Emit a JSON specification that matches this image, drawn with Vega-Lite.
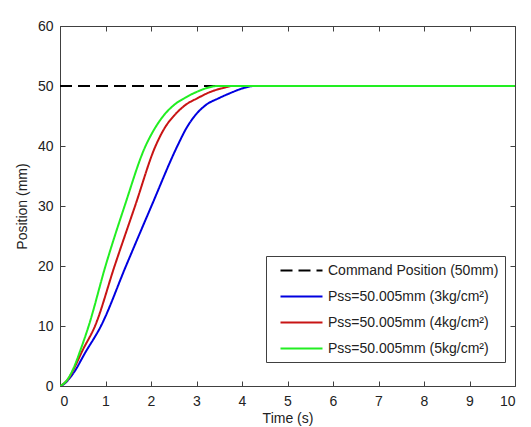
{
  "$schema": "https://vega.github.io/schema/vega-lite/v6.json",
  "width": 455,
  "height": 360,
  "autosize": {"type": "none"},
  "padding": {"left": 60, "top": 26, "right": 16, "bottom": 41},
  "background": "white",
  "config": {
    "font": "Liberation Sans",
    "view": {"stroke": "#404040", "strokeWidth": 1},
    "axis": {"domain": false, "tickColor": "transparent", "labelColor": "#222", "titleColor": "#222", "labelFontSize": 14, "titleFontSize": 14, "titleFontWeight": "normal", "tickSize": -5}
  },
  "data": {"values": [
    {"t": 0, "pos": 50, "s": "Command Position (50mm)"},
    {"t": 10, "pos": 50, "s": "Command Position (50mm)"},
    {"t": 0, "pos": 0, "s": "Pss=50.005mm (3kg/cm²)"},
    {"t": 0.1, "pos": 0.4, "s": "Pss=50.005mm (3kg/cm²)"},
    {"t": 0.2, "pos": 1.2, "s": "Pss=50.005mm (3kg/cm²)"},
    {"t": 0.3, "pos": 2.2, "s": "Pss=50.005mm (3kg/cm²)"},
    {"t": 0.55, "pos": 5.5, "s": "Pss=50.005mm (3kg/cm²)"},
    {"t": 0.9, "pos": 10, "s": "Pss=50.005mm (3kg/cm²)"},
    {"t": 1.45, "pos": 20, "s": "Pss=50.005mm (3kg/cm²)"},
    {"t": 2.01, "pos": 30, "s": "Pss=50.005mm (3kg/cm²)"},
    {"t": 2.58, "pos": 40, "s": "Pss=50.005mm (3kg/cm²)"},
    {"t": 2.78, "pos": 43, "s": "Pss=50.005mm (3kg/cm²)"},
    {"t": 2.96, "pos": 45, "s": "Pss=50.005mm (3kg/cm²)"},
    {"t": 3.2, "pos": 46.8, "s": "Pss=50.005mm (3kg/cm²)"},
    {"t": 3.5, "pos": 48, "s": "Pss=50.005mm (3kg/cm²)"},
    {"t": 3.8, "pos": 49, "s": "Pss=50.005mm (3kg/cm²)"},
    {"t": 4.05, "pos": 49.7, "s": "Pss=50.005mm (3kg/cm²)"},
    {"t": 4.27, "pos": 50, "s": "Pss=50.005mm (3kg/cm²)"},
    {"t": 10, "pos": 50, "s": "Pss=50.005mm (3kg/cm²)"},
    {"t": 0, "pos": 0, "s": "Pss=50.005mm (4kg/cm²)"},
    {"t": 0.1, "pos": 0.5, "s": "Pss=50.005mm (4kg/cm²)"},
    {"t": 0.2, "pos": 1.4, "s": "Pss=50.005mm (4kg/cm²)"},
    {"t": 0.3, "pos": 2.8, "s": "Pss=50.005mm (4kg/cm²)"},
    {"t": 0.5, "pos": 6, "s": "Pss=50.005mm (4kg/cm²)"},
    {"t": 0.77, "pos": 10, "s": "Pss=50.005mm (4kg/cm²)"},
    {"t": 1.2, "pos": 20, "s": "Pss=50.005mm (4kg/cm²)"},
    {"t": 1.65, "pos": 30, "s": "Pss=50.005mm (4kg/cm²)"},
    {"t": 2.1, "pos": 40, "s": "Pss=50.005mm (4kg/cm²)"},
    {"t": 2.3, "pos": 43, "s": "Pss=50.005mm (4kg/cm²)"},
    {"t": 2.5, "pos": 45, "s": "Pss=50.005mm (4kg/cm²)"},
    {"t": 2.75, "pos": 46.8, "s": "Pss=50.005mm (4kg/cm²)"},
    {"t": 3.03, "pos": 48, "s": "Pss=50.005mm (4kg/cm²)"},
    {"t": 3.3, "pos": 49, "s": "Pss=50.005mm (4kg/cm²)"},
    {"t": 3.55, "pos": 49.6, "s": "Pss=50.005mm (4kg/cm²)"},
    {"t": 3.8, "pos": 50, "s": "Pss=50.005mm (4kg/cm²)"},
    {"t": 10, "pos": 50, "s": "Pss=50.005mm (4kg/cm²)"},
    {"t": 0, "pos": 0, "s": "Pss=50.005mm (5kg/cm²)"},
    {"t": 0.1, "pos": 0.5, "s": "Pss=50.005mm (5kg/cm²)"},
    {"t": 0.2, "pos": 1.5, "s": "Pss=50.005mm (5kg/cm²)"},
    {"t": 0.3, "pos": 3, "s": "Pss=50.005mm (5kg/cm²)"},
    {"t": 0.45, "pos": 6, "s": "Pss=50.005mm (5kg/cm²)"},
    {"t": 0.63, "pos": 10, "s": "Pss=50.005mm (5kg/cm²)"},
    {"t": 1.0, "pos": 20, "s": "Pss=50.005mm (5kg/cm²)"},
    {"t": 1.42, "pos": 30, "s": "Pss=50.005mm (5kg/cm²)"},
    {"t": 1.88, "pos": 40, "s": "Pss=50.005mm (5kg/cm²)"},
    {"t": 2.05, "pos": 42.5, "s": "Pss=50.005mm (5kg/cm²)"},
    {"t": 2.27, "pos": 45, "s": "Pss=50.005mm (5kg/cm²)"},
    {"t": 2.5, "pos": 46.8, "s": "Pss=50.005mm (5kg/cm²)"},
    {"t": 2.74, "pos": 48, "s": "Pss=50.005mm (5kg/cm²)"},
    {"t": 3.0, "pos": 49, "s": "Pss=50.005mm (5kg/cm²)"},
    {"t": 3.2, "pos": 49.6, "s": "Pss=50.005mm (5kg/cm²)"},
    {"t": 3.46, "pos": 50, "s": "Pss=50.005mm (5kg/cm²)"},
    {"t": 10, "pos": 50, "s": "Pss=50.005mm (5kg/cm²)"}
  ]},
  "encoding": {
    "x": {"field": "t", "type": "quantitative", "scale": {"domain": [0, 10], "nice": false}, "axis": {"grid": true, "gridColor": "#404040", "gridWidth": 1, "gridOpacity": 1, "gridDash": [5, 350, 5, 1], "title": "Time (s)", "values": [0,1,2,3,4,5,6,7,8,9,10], "labelPadding": 13, "titlePadding": 3}},
    "y": {"field": "pos", "type": "quantitative", "scale": {"domain": [0, 60], "nice": false}, "axis": {"grid": true, "gridColor": "#404040", "gridWidth": 1, "gridOpacity": 1, "gridDash": [5, 445, 5, 1], "title": "Position (mm)", "values": [0,10,20,30,40,50,60], "labelPadding": 12, "titlePadding": 8}},
    "color": {"field": "s", "type": "nominal", "scale": {"domain": ["Command Position (50mm)", "Pss=50.005mm (3kg/cm²)", "Pss=50.005mm (4kg/cm²)", "Pss=50.005mm (5kg/cm²)"], "range": ["#000000", "#0000e0", "#c81414", "#22ee22"]},
      "legend": {"title": null, "orient": "none", "legendX": 206, "legendY": 230, "symbolType": "M0,0H5.6", "symbolSize": 225, "symbolStrokeWidth": 2, "labelFontSize": 14, "labelColor": "#222", "labelLimit": 300, "rowPadding": 10, "padding": 6, "strokeColor": "#404040", "fillColor": "white", "labelOffset": 39}},
    "strokeDash": {"field": "s", "type": "nominal", "scale": {"domain": ["Command Position (50mm)", "Pss=50.005mm (3kg/cm²)", "Pss=50.005mm (4kg/cm²)", "Pss=50.005mm (5kg/cm²)"], "range": [[12, 6], [1, 0], [1, 0], [1, 0]]}, "legend": {"title": null}}
  },
  "layer": [
    {"transform": [{"filter": "datum.s === 'Command Position (50mm)'"}], "mark": {"type": "line", "strokeWidth": 2, "clip": true}},
    {"transform": [{"filter": "datum.s === 'Pss=50.005mm (3kg/cm²)'"}], "mark": {"type": "line", "strokeWidth": 2, "interpolate": "monotone", "clip": true}},
    {"transform": [{"filter": "datum.s === 'Pss=50.005mm (4kg/cm²)'"}], "mark": {"type": "line", "strokeWidth": 2, "interpolate": "monotone", "clip": true}},
    {"transform": [{"filter": "datum.s === 'Pss=50.005mm (5kg/cm²)'"}], "mark": {"type": "line", "strokeWidth": 2, "interpolate": "monotone", "clip": true}}
  ]
}
